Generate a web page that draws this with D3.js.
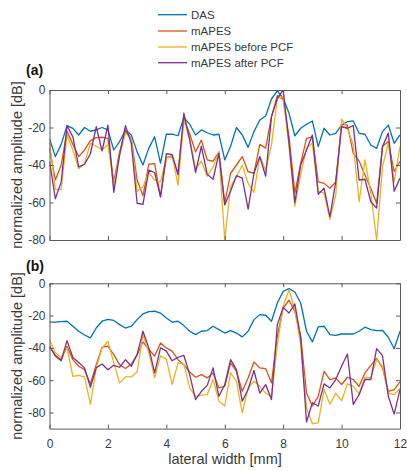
<!DOCTYPE html>
<html>
<head>
<meta charset="utf-8">
<script src="https://cdn.jsdelivr.net/npm/d3@7"></script>
<style>
  html, body { margin: 0; padding: 0; background: #fff; }
  svg { display: block; font-family: "Liberation Sans", Arial, Helvetica, sans-serif; }
</style>
</head>
<body>
<svg id="chart" width="407" height="471"></svg>
<script>
// lateral positions: 0 to 12 mm, step 0.2 mm (61 samples)
const lateral = d3.range(61).map(i => +(i * 0.2).toFixed(1));

const seriesNames = ["DAS", "mAPES", "mAPES before PCF", "mAPES after PCF"];
const seriesColors = ["#0072BD", "#D95319", "#EDB120", "#7E2F8E"];

const xTicks = [0, 2, 4, 6, 8, 10, 12];
const yTicks = [0, -20, -40, -60, -80];

// panel (a)
const dasA = [-26, -35.5, -29, -19, -20.5, -24, -20, -22, -21.3, -20, -21.3, -32, -27.5, -21.3, -24, -33, -40, -31, -25, -39,
  -23.6, -23.5, -24.4, -14.6, -18.3, -24, -21.3, -22.8, -24, -23.6, -37.3, -30, -20, -24, -30.6, -22.2, -16, -13.9, -4.8, -0.5,
  -4.4, -12.4, -24.4, -20.4, -18.3, -16.5, -30.2, -20.4, -24, -23.1, -18.7, -16.9, -16.5, -23.1, -23.6, -29.3, -31.1, -22.2, -18.7, -28.4, -24];
const mapesA = [-31, -48, -40, -22, -29, -35.5, -32, -27, -25.4, -25.2, -25.8, -49, -33, -22, -25.8, -48, -56.4, -39.6, -39.3, -57,
  -36, -35.5, -44.4, -15.5, -23.5, -33, -26.7, -37.3, -38, -33, -60.4, -44.4, -40, -35.5, -43.6, -44.4, -29, -31, -14.2, -3,
  -5, -25, -55, -39, -25.8, -25, -49, -49.8, -52.4, -49, -18.3, -18.7, -33.8, -37.9, -45.3, -52.4, -60.4, -30.2, -27.5, -43.6, -38];
const beforeA = [-28, -53, -53, -24, -32, -42, -39, -28.4, -30, -32, -29, -50.7, -34.7, -23, -25.8, -54, -51.6, -44, -48, -49,
  -36.4, -34.7, -50.7, -16, -25.8, -42, -38, -46, -41, -33, -80, -51.6, -46.2, -40, -49.8, -54.6, -35.5, -42.7, -29.3, -4.4,
  -3.6, -30, -62, -45, -31, -28.4, -54, -55, -69, -56, -15.5, -20.4, -29.3, -59.6, -37.3, -55, -80, -41, -28.4, -49, -30];
const afterA = [-38, -58, -49, -19, -25, -41, -39.6, -34, -19.6, -32.5, -18.7, -54.6, -34.7, -19, -28.4, -60.4, -61, -42.7, -44, -57,
  -34, -34.5, -45.3, -12.4, -26.7, -44, -30, -45, -47.6, -33.8, -61.3, -53.9, -45.7, -47, -63.5, -44.4, -35.5, -46, -14.2, -4.5,
  0, -28, -60, -40, -32, -24, -55.6, -52.4, -67.5, -49, -19.6, -20.4, -19, -48, -47.6, -59.6, -63, -30.2, -23, -54, -47];

// panel (b)
const dasB = [-24, -24, -23.7, -23.5, -26.6, -29.7, -32, -33.8, -27.7, -23.5, -22.3, -23, -25.6, -27.7, -26.6, -22.5, -19, -17.5, -17.3, -18.4,
  -21.5, -24, -23.5, -26.2, -29.7, -31.8, -29.7, -29.3, -26.6, -28.7, -30.8, -29.3, -30.8, -33.2, -29.7, -22.5, -19.4, -19.8, -23.5, -12.2,
  -5, -3.3, -5.4, -12.2, -29.7, -36.3, -27, -26.6, -31.8, -32.2, -31.4, -31.4, -31.4, -29.7, -27.2, -28.7, -29.3, -29.1, -33.4, -40.5, -29.7];
const mapesB = [-39, -44.6, -47.3, -39, -47.3, -51.4, -53.5, -62.3, -50.4, -39.6, -39, -44.2, -50.4, -52.8, -50, -44.2, -36.3, -41, -45, -37,
  -40, -42, -47.3, -50.4, -55, -58.2, -56.6, -58.6, -55.5, -64.8, -63.8, -49.3, -54.5, -66.9, -58.6, -48.7, -52.4, -52.8, -61.7, -32.8,
  -15.3, -10.5, -17.3, -32.8, -68, -76, -70, -54.5, -59.6, -58.6, -62.7, -58.2, -59.6, -63.8, -55.5, -50.8, -46.6, -52.4, -66.9, -65.8, -61];
const beforeB = [-35, -43, -46, -40, -57.6, -57, -58, -75, -52.4, -40, -36, -49.3, -61.7, -58, -58, -55, -31.8, -43, -58.6, -45,
  -47, -62.7, -49.3, -50, -64.8, -70, -69.3, -69, -59.6, -73, -76, -55.5, -60.7, -80.3, -64.8, -60.7, -63.8, -68, -70, -38,
  -14, -4, -16.3, -38, -77.2, -87, -86.5, -65.8, -75, -68, -72.7, -62.3, -63.8, -68.5, -58.2, -58.6, -47.3, -51.4, -68, -69, -65.2];
const afterB = [-39, -45, -48, -35.5, -46, -49, -52.4, -64.4, -52.4, -50, -53.5, -50.8, -52, -47.3, -51.4, -44.2, -29.7, -40, -55.5, -40,
  -42, -48, -45.8, -44.6, -56.6, -72, -66.9, -63.2, -52.4, -70, -62.7, -47.3, -53.5, -73, -65.8, -54, -68, -62.7, -72, -25.6,
  -14.9, -18.4, -12.8, -33.8, -85.9, -74, -76, -62.3, -64.8, -59.6, -51.4, -43.8, -75, -69, -59.6, -59.6, -40.5, -44.8, -70, -81, -65.8];

const svg = d3.select("#chart");
const axisColor = "#5a5a5a";
const textColor = "#3a3a3a";

const x = d3.scaleLinear().domain([0, 12]).range([49.5, 400]);

const panels = [
  { tag: "(a)", tagY: 75, top: 90, bottom: 240, yDomain: [-80, 0], series: [dasA, mapesA, beforeA, afterA], xLabels: false },
  { tag: "(b)", tagY: 271, top: 283.3, bottom: 428.6, yDomain: [-90, 0], series: [dasB, mapesB, beforeB, afterB], xLabels: true }
];

panels.forEach((p, pi) => {
  const y = d3.scaleLinear().domain(p.yDomain).range([p.bottom, p.top]);
  const g = svg.append("g");
  const clipId = "clip" + pi;
  svg.append("clipPath").attr("id", clipId)
    .append("rect").attr("x", x(0)).attr("y", p.top).attr("width", x(12) - x(0)).attr("height", p.bottom - p.top);

  // data lines
  const line = d3.line().x((d, i) => x(lateral[i])).y(d => y(d));
  const lines = g.append("g").attr("clip-path", `url(#${clipId})`);
  p.series.forEach((s, k) => {
    lines.append("path").datum(s)
      .attr("d", line)
      .attr("fill", "none")
      .attr("stroke", seriesColors[k])
      .attr("stroke-width", 1.3)
      .attr("stroke-linejoin", "round");
  });

  // axes (box with inward ticks on all four sides)
  const tickLen = 4;
  const styleAxis = sel => {
    sel.select(".domain").attr("stroke", axisColor);
    sel.selectAll(".tick line").attr("stroke", axisColor);
    sel.selectAll(".tick text").attr("fill", textColor).style("font-size", "12px");
  };

  const bottomAxis = d3.axisBottom(x).tickValues(xTicks).tickSizeInner(-tickLen).tickSizeOuter(0).tickPadding(10.5)
    .tickFormat(p.xLabels ? d3.format("d") : () => "");
  g.append("g").attr("transform", `translate(0,${p.bottom})`).call(bottomAxis).call(styleAxis);

  const topAxis = d3.axisTop(x).tickValues(xTicks).tickSizeInner(-tickLen).tickSizeOuter(0).tickFormat(() => "");
  g.append("g").attr("transform", `translate(0,${p.top})`).call(topAxis).call(styleAxis);

  const leftAxis = d3.axisLeft(y).tickValues(yTicks).tickSizeInner(-tickLen).tickSizeOuter(0).tickPadding(4)
    .tickFormat(d => d === 0 ? "0" : "-" + Math.abs(d));
  g.append("g").attr("transform", `translate(${x(0)},0)`).call(leftAxis).call(styleAxis);

  const rightAxis = d3.axisRight(y).tickValues(yTicks).tickSizeInner(-tickLen).tickSizeOuter(0).tickFormat(() => "");
  g.append("g").attr("transform", `translate(${x(12)},0)`).call(rightAxis).call(styleAxis);

  // panel tag
  svg.append("text").attr("x", 26).attr("y", p.tagY)
    .attr("font-size", 14).attr("font-weight", "bold").attr("fill", "#111")
    .text(p.tag);

  // y label
  svg.append("text")
    .attr("transform", `translate(21.5,${(p.top + p.bottom) / 2}) rotate(-90)`)
    .attr("text-anchor", "middle").attr("font-size", 14.5).attr("fill", textColor)
    .text("normalized amplitude [dB]");
});

// x label
svg.append("text").attr("x", 225).attr("y", 464)
  .attr("text-anchor", "middle").attr("font-size", 14.5).attr("fill", textColor)
  .text("lateral width [mm]");

// legend
const legendRows = [14.7, 31, 47, 62.7];
const legend = svg.append("g");
seriesNames.forEach((name, k) => {
  legend.append("line")
    .attr("x1", 158).attr("x2", 187).attr("y1", legendRows[k]).attr("y2", legendRows[k])
    .attr("stroke", seriesColors[k]).attr("stroke-width", 1.3);
  legend.append("text")
    .attr("x", 191).attr("y", legendRows[k] + 4.2)
    .attr("font-size", 11.5).attr("fill", textColor)
    .text(name);
});
</script>
</body>
</html>
